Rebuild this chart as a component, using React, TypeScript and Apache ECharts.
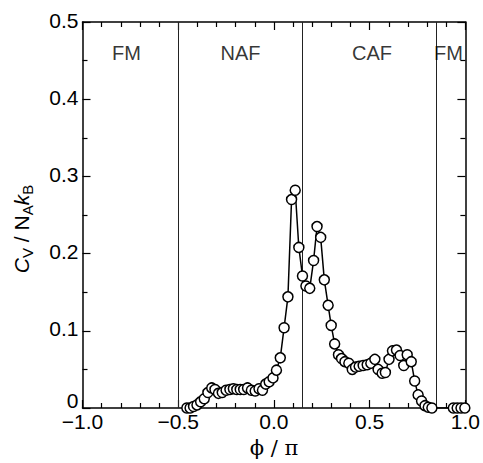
import React, { useEffect, useRef } from "react";
import * as echarts from "echarts";

const phi = [
  -0.455, -0.438, -0.42, -0.402, -0.383, -0.364, -0.345, -0.325, -0.308, -0.29,
  -0.27, -0.25, -0.23, -0.212, -0.194, -0.176, -0.158, -0.138, -0.118, -0.098,
  -0.078, -0.06, -0.043, -0.025, -0.005, 0.013, 0.033, 0.053, 0.073, 0.092,
  0.111, 0.13, 0.149, 0.167, 0.187, 0.207, 0.225, 0.244, 0.263, 0.283,
  0.299, 0.317, 0.337, 0.353, 0.371, 0.391, 0.409, 0.426, 0.445, 0.466,
  0.487, 0.506, 0.527, 0.544, 0.565, 0.582, 0.601, 0.619, 0.64, 0.659,
  0.678, 0.696, 0.717, 0.735, 0.753, 0.771, 0.789, 0.806, 0.825, 0.937,
  0.957, 0.977, 0.997,
];
const cv = [
  0.0, 0.0, 0.002, 0.004, 0.008, 0.012, 0.02, 0.026, 0.024, 0.019,
  0.02, 0.023, 0.024, 0.025, 0.024, 0.024, 0.024, 0.026, 0.023, 0.022,
  0.025, 0.023, 0.031, 0.034, 0.039, 0.049, 0.065, 0.104, 0.144, 0.27,
  0.282, 0.208, 0.171, 0.158, 0.155, 0.191, 0.235, 0.221, 0.166, 0.133,
  0.107, 0.083, 0.069, 0.064, 0.06, 0.058, 0.05, 0.053, 0.054, 0.055,
  0.056, 0.058, 0.063, 0.05, 0.045, 0.046, 0.063, 0.074, 0.075, 0.068,
  0.055, 0.069, 0.06, 0.035, 0.017, 0.009, 0.003, 0.001, 0.0, 0.0,
  0.0, 0.0, 0.0,
];
const boundaries = [-0.5, 0.15, 0.85];
const phaseLabels = ["FM", "NAF", "CAF", "FM"];
const phaseLabelX = [-0.77, -0.175, 0.512, 0.911];
const phaseLabelY = 0.46;

const FONT = "'Liberation Sans', Arial, Helvetica, sans-serif";

export default function App() {
  const ref = useRef<HTMLDivElement>(null);
  useEffect(() => {
    if (!ref.current) return;
    const chart = echarts.init(ref.current, null, { renderer: "svg" });
    const tickCommon = {
      axisLine: { show: true, onZero: false, lineStyle: { color: "#000", width: 1.5 } },
      axisTick: { show: true, inside: true, length: 8, lineStyle: { color: "#000", width: 1.2 } },
      minorTick: { show: true, length: 5, lineStyle: { color: "#000", width: 1.2 } },
      splitLine: { show: false },
    };
    const fmtX = (v: number) => v.toFixed(1).replace("-", "\u2212");
    const option: any = {
      animation: false,
      backgroundColor: "#fff",
      grid: { left: 82.5, right: 14, top: 22, bottom: 55 },
      xAxis: [
        {
          type: "value",
          min: -1,
          max: 1,
          interval: 0.5,
          ...tickCommon,
          minorTick: { ...tickCommon.minorTick, splitNumber: 5 },
          axisLabel: {
            show: true,
            formatter: fmtX,
            color: "#000",
            fontSize: 21,
            fontFamily: FONT,
            margin: 3,
          },
          name: "\u03d5 / \u03c0",
          nameLocation: "middle",
          nameGap: 29,
          nameTextStyle: { color: "#000", fontSize: 21, fontFamily: "'DejaVu Serif', 'Liberation Serif', serif" },
        },
        {
          type: "value",
          position: "top",
          min: -1,
          max: 1,
          interval: 0.5,
          ...tickCommon,
          minorTick: { ...tickCommon.minorTick, splitNumber: 5 },
          axisLabel: { show: false },
        },
      ],
      yAxis: [
        {
          type: "value",
          min: 0,
          max: 0.5,
          interval: 0.1,
          ...tickCommon,
          minorTick: { ...tickCommon.minorTick, splitNumber: 2 },
          axisLabel: {
            show: true,
            color: "#000",
            fontSize: 21,
            fontFamily: FONT,
            margin: 4,
            formatter: (v: number) => (v === 0 ? "{z|0}" : "{n|" + v.toFixed(1) + "}"),
            rich: {
              z: { fontSize: 21, fontFamily: FONT, color: "#000", padding: [0, 0, 16, 0] },
              n: { fontSize: 21, fontFamily: FONT, color: "#000", padding: [0, 0, 4, 0] },
            },
          },
          name: "{i|C}{s|V}{t| / N}{s|A}{i|k}{s|B}",
          nameLocation: "middle",
          nameRotate: 90,
          nameGap: 48,
          nameTextStyle: {
            color: "#000",
            padding: [0, 28, 0, 0],
            rich: {
              i: { fontSize: 21, fontStyle: "italic", fontFamily: FONT, color: "#000", lineHeight: 26, verticalAlign: "middle" },
              t: { fontSize: 21, fontFamily: FONT, color: "#000", lineHeight: 26, verticalAlign: "middle" },
              s: { fontSize: 15, fontFamily: FONT, color: "#000", lineHeight: 15, verticalAlign: "bottom" },
            },
          },
        },
        {
          type: "value",
          position: "right",
          min: 0,
          max: 0.5,
          interval: 0.1,
          ...tickCommon,
          minorTick: { ...tickCommon.minorTick, splitNumber: 2 },
          axisLabel: { show: false },
        },
      ],
      series: [
        {
          type: "line",
          data: phi.map((x, i) => [x, cv[i]]),
          xAxisIndex: 0,
          yAxisIndex: 0,
          symbol: "circle",
          symbolSize: 10,
          lineStyle: { color: "#000", width: 1.5 },
          itemStyle: { color: "#fff", borderColor: "#000", borderWidth: 1.5 },
          z: 5,
          markLine: {
            silent: true,
            symbol: "none",
            label: { show: false },
            lineStyle: { color: "#222", width: 1, type: "solid" },
            data: boundaries.map((b) => ({ xAxis: b })),
            z: 1,
          },
        },
        {
          type: "scatter",
          data: phaseLabelX.map((x, i) => ({ value: [x, phaseLabelY], name: phaseLabels[i] })),
          symbolSize: 0,
          silent: true,
          label: {
            show: true,
            position: "inside",
            formatter: (p: any) => p.name,
            color: "#000",
            fontSize: 20,
            fontFamily: FONT,
          },
          z: 6,
        },
      ],
    };
    chart.setOption(option);
    return () => chart.dispose();
  }, []);
  return (
    <div
      ref={ref}
      style={{ position: "fixed", left: 0, top: 0, width: 483, height: 463, background: "#fff" }}
    />
  );
}
